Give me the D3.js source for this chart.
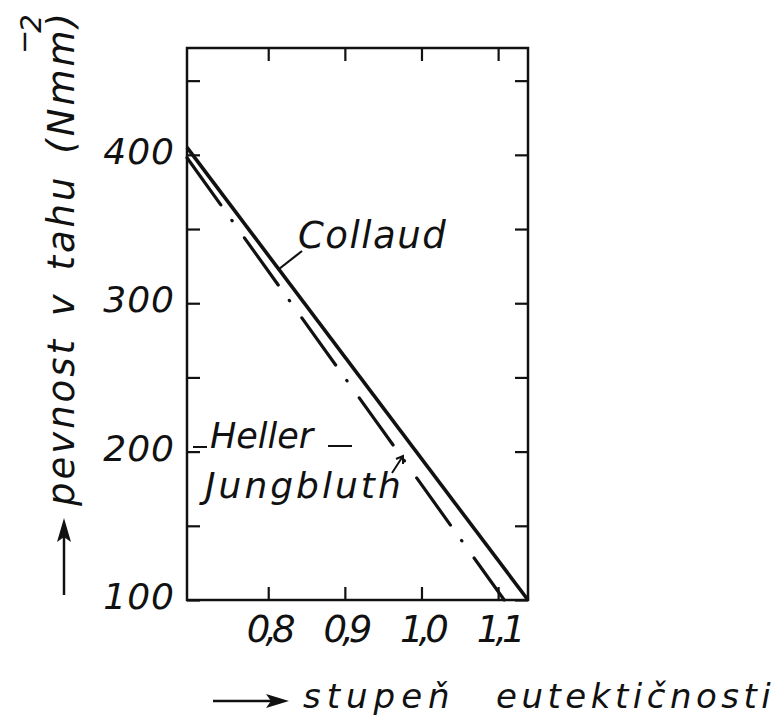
<!DOCTYPE html>
<html lang="cs">
<head>
    <meta charset="UTF-8">
    <title>Pevnost v tahu vs. stupeň eutektičnosti</title>
    <script src="https://d3js.org/d3.v7.js"></script>
    <style>
        body {
            margin: 0;
            background: #fff;
        }
        text {
            font-family: "DejaVu Sans", sans-serif;
            font-style: italic;
            fill: #111;
        }
    </style>
</head>
<body>
    <svg id="chart"></svg>

    <script>
        // Data
        const xTicks = [0.8, 0.9, 1.0, 1.1];
        const yTicks = [100, 150, 200, 250, 300, 350, 400, 450];
        const yLabelled = [100, 200, 300, 400];

        // two straight lines: [x, strength]
        const collaudPts = [[0.694, 405], [1.139, 100]];
        const hellerPts = [[0.694, 398], [1.108, 100]];

        const seriesNames = ["Collaud", "Heller", "Jungbluth"];
        const xTitle = ["stupeň", "eutektičnosti"];
        const yTitle = "pevnost v tahu (Nmm)";
        const yTitleSup = ["−", "2"];

        // Configuration
        const width = 777;
        const height = 723;
        const plot = {left: 187, right: 528, top: 48, bottom: 600};
        const tick = 13;

        const svg = d3.select("#chart")
            .attr("width", width)
            .attr("height", height);

        const x = d3.scaleLinear()
            .domain([0.694, 1.139])
            .range([plot.left, plot.right]);

        const y = d3.scaleLinear()
            .domain([100, 472])
            .range([plot.bottom, plot.top]);

        const fmt = d3.formatLocale({decimal: ",", thousands: " ", grouping: [3], currency: ["", ""]}).format(".1f");

        // Axes, ticks pointing inward
        const gx = svg.append("g")
            .attr("transform", `translate(0,${plot.bottom})`)
            .call(d3.axisBottom(x).tickValues(xTicks).tickSize(-tick).tickSizeOuter(0).tickPadding(16).tickFormat(fmt));

        svg.append("g")
            .attr("transform", `translate(0,${plot.top})`)
            .call(d3.axisTop(x).tickValues(xTicks).tickSize(-tick).tickSizeOuter(0).tickFormat(""));

        const gy = svg.append("g")
            .attr("transform", `translate(${plot.left},0)`)
            .call(d3.axisLeft(y).tickValues(yTicks).tickSize(-tick).tickSizeOuter(0).tickPadding(12)
                .tickFormat(d => yLabelled.includes(d) ? d : ""));

        svg.append("g")
            .attr("transform", `translate(${plot.right},0)`)
            .call(d3.axisRight(y).tickValues(yTicks).tickSize(-tick).tickSizeOuter(0).tickFormat(""));

        svg.selectAll(".domain").remove();
        svg.selectAll(".tick line")
            .attr("stroke", "#111")
            .attr("stroke-width", 2.2);

        gx.selectAll("text")
            .attr("font-family", "DejaVu Sans")
            .attr("font-size", 37)
            .attr("letter-spacing", -5)
            .attr("fill", "#111");

        gy.selectAll("text")
            .attr("font-family", "DejaVu Sans")
            .attr("font-size", 36)
            .attr("letter-spacing", 1)
            .attr("dy", "0.24em")
            .attr("fill", "#111");

        // Frame
        svg.append("rect")
            .attr("x", plot.left)
            .attr("y", plot.top)
            .attr("width", plot.right - plot.left)
            .attr("height", plot.bottom - plot.top)
            .attr("fill", "none")
            .attr("stroke", "#111")
            .attr("stroke-width", 2.5);

        // Lines
        const line = d3.line()
            .x(d => x(d[0]))
            .y(d => y(d[1]));

        svg.append("path")
            .datum(collaudPts)
            .attr("d", line)
            .attr("fill", "none")
            .attr("stroke", "#111")
            .attr("stroke-width", 3.6);

        svg.append("path")
            .datum(hellerPts)
            .attr("d", line)
            .attr("fill", "none")
            .attr("stroke", "#111")
            .attr("stroke-width", 3.2)
            .attr("stroke-linecap", "round")
            .attr("stroke-dasharray", "58,19,0.5,21");

        // Labels with leaders
        svg.append("text")
            .attr("x", 298)
            .attr("y", 248)
            .attr("font-size", 37)
            .attr("letter-spacing", 1.5)
            .text(seriesNames[0]);

        svg.append("path")
            .attr("d", "M302,251 L279,269")
            .attr("stroke", "#111")
            .attr("stroke-width", 2.2);

        svg.append("text")
            .attr("x", 210)
            .attr("y", 448)
            .attr("font-size", 35)
            .text(seriesNames[1]);

        svg.append("path")
            .attr("d", "M328,446 L352,446 M193,447 L207,447")
            .attr("stroke", "#111")
            .attr("stroke-width", 2.2);

        svg.append("text")
            .attr("x", 205)
            .attr("y", 498)
            .attr("font-size", 36)
            .attr("letter-spacing", 3)
            .text(seriesNames[2]);

        svg.append("path")
            .attr("d", "M392,473 L403,456 M396,459 L403,456 L403,464")
            .attr("fill", "none")
            .attr("stroke", "#111")
            .attr("stroke-width", 2);

        // X title with arrow
        svg.append("path")
            .attr("d", "M213,701 L278,701")
            .attr("stroke", "#111")
            .attr("stroke-width", 2.5);
        svg.append("path")
            .attr("d", "M289,701 L266,694 L271,701 L266,708 Z")
            .attr("fill", "#111");

        svg.append("text")
            .attr("x", 303)
            .attr("y", 708)
            .attr("font-size", 34)
            .attr("letter-spacing", 6)
            .text(xTitle[0]);

        svg.append("text")
            .attr("x", 496)
            .attr("y", 708)
            .attr("font-size", 34)
            .attr("letter-spacing", 4.5)
            .text(xTitle[1]);

        // Y title with arrow (rotated)
        svg.append("path")
            .attr("d", "M64,595 L64,530")
            .attr("stroke", "#111")
            .attr("stroke-width", 2.5);
        svg.append("path")
            .attr("d", "M64,518 L57,542 L64,537 L71,542 Z")
            .attr("fill", "#111");

        svg.append("text")
            .attr("transform", "translate(74,506) rotate(-90)")
            .attr("font-size", 37)
            .attr("letter-spacing", 3)
            .attr("word-spacing", 6)
            .text(yTitle);

        const sup = svg.append("text")
            .attr("transform", "translate(41,54) rotate(-90)")
            .attr("font-size", 29);
        sup.append("tspan").attr("dy", -7).attr("font-style", "normal").text(yTitleSup[0]);
        sup.append("tspan").attr("dy", 7).attr("dx", -3).text(yTitleSup[1]);
    </script>
</body>
</html>
